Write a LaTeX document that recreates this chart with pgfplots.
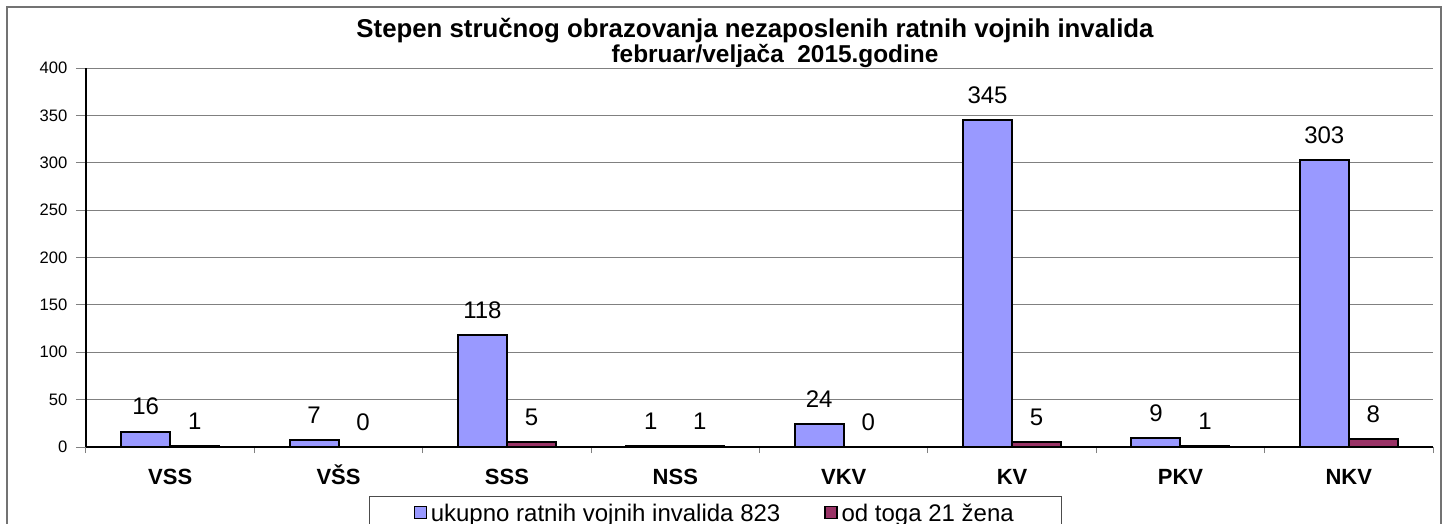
\documentclass[border=0pt]{standalone}
\usepackage{pgfplots}
\pgfplotsset{compat=1.18}
\usepackage{fontspec}
\setmainfont{Liberation Sans}
\definecolor{barblue}{HTML}{9999FF}
\definecolor{barred}{HTML}{993366}

\begin{document}
\begin{tikzpicture}
\useasboundingbox (0,0) rectangle (725.5pt,-262pt);
% outer chart frame (bottom edge runs off the page)
\draw[black!55, line width=0.6pt] (3.5pt,-3.5pt) rectangle (720.5pt,-300pt);

\begin{axis}[
    at={(43pt,-223.5pt)}, anchor=south west,
    scale only axis, width=673.5pt, height=189.5pt,
    ybar=0pt, bar width=24.5pt,
    xmin=0.5, xmax=8.5, ymin=0, ymax=400,
    xtick={1,...,8},
    xticklabels={VSS,VŠS,SSS,NSS,VKV,KV,PKV,NKV},
    minor xtick={0.5,1.5,...,8.5},
    ytick={0,50,...,400},
    axis x line*=bottom, axis y line*=left,
    axis line style={-, black, line width=0.6pt},
    tick align=outside, major tick length=5pt, minor tick length=3pt,
    tick style={black!50, line width=0.5pt},
    major x tick style={draw=none},
    ymajorgrids, grid style={black!50, line width=0.5pt},
    /pgf/number format/assume math mode=true,
    xticklabel style={font=\bfseries\fontsize{11}{13}\selectfont, text height=7.9pt, yshift=-2.5pt},
    yticklabel style={font=\fontsize{8.3}{10}\selectfont, xshift=-0.8pt},
    nodes near coords,
    nodes near coords style={font=\fontsize{12}{14}\selectfont, anchor=south, yshift=4.5pt, text=black},
    every axis plot/.append style={draw=black, line width=1pt},
    legend columns=2,
    legend style={at={(axis description cs:0.2101,-0.1293)}, anchor=north west,
        draw=black!70, line width=0.6pt, font=\fontsize{12}{14}\selectfont,
        inner xsep=22pt, inner ysep=3.7pt,
        nodes={inner xsep=2pt, inner ysep=0pt},
        /tikz/every even column/.append style={column sep=20pt}},
    myleg/.style={legend image code/.code={\draw[##1, line width=0.6pt] (0pt,-2pt) rectangle (6pt,4pt);}},
]
\addplot[fill=barblue, myleg] coordinates {(1,16)(2,7)(3,118)(4,1)(5,24)(6,345)(7,9)(8,303)};
\addlegendentry{ukupno ratnih vojnih invalida 823}
\addplot[fill=barred, myleg] coordinates {(1,1)(2,0)(3,5)(4,1)(5,0)(6,5)(7,1)(8,8)};
\addlegendentry{od toga 21 žena}
\end{axis}

\node[anchor=base, font=\bfseries\fontsize{12.9}{15}\selectfont] at (377.5pt,-19pt)
    {Stepen stručnog obrazovanja nezaposlenih ratnih vojnih invalida};
\node[anchor=base, font=\bfseries\fontsize{12.2}{14}\selectfont] at (387.5pt,-31.5pt)
    {februar/veljača\ \ 2015.godine};
\end{tikzpicture}
\end{document}
